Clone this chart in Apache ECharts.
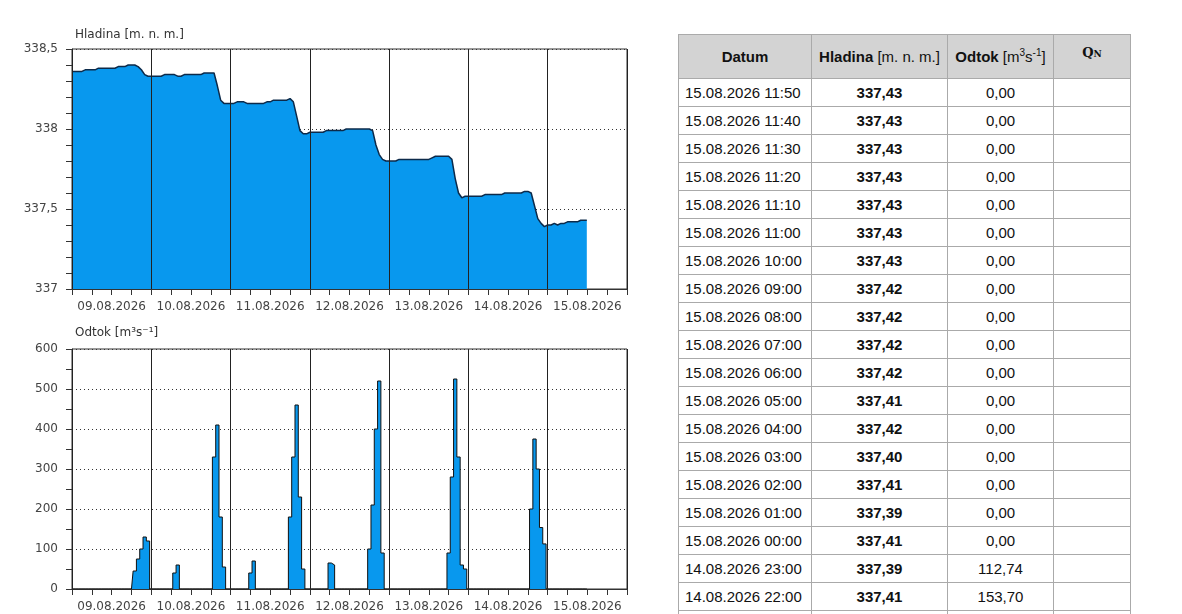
<!DOCTYPE html>
<html>
<head>
<meta charset="utf-8">
<script src="https://cdn.jsdelivr.net/npm/echarts@6/dist/echarts.min.js"></script>
<style>
  html, body { margin: 0; padding: 0; background: #fff; width: 1182px; height: 614px; overflow: hidden; }
  #graf { position: absolute; left: 0; top: 0; width: 660px; height: 614px; }
  #tabulka { position: absolute; left: 678px; top: 34px; border-collapse: collapse; table-layout: fixed;
    font-family: "Liberation Sans", Arial, sans-serif; font-size: 15px; color: #111; }
  #tabulka th, #tabulka td { border: 1px solid #aaa; padding: 0; text-align: center; white-space: nowrap; }
  #tabulka th { background: #d3d3d3; height: 43px; font-weight: normal; line-height: 18px; }
  #tabulka td { height: 27px; }
  #tabulka td.hl { font-weight: bold; }
  #tabulka td.dat { text-align: left; padding-left: 6px; }
  #tabulka sup { font-size: 10px; line-height: 0; }
</style>
</head>
<body>
<div id="graf"></div>
<table id="tabulka">
  <colgroup><col style="width:133px"><col style="width:136px"><col style="width:106px"><col style="width:77px"></colgroup>
  <thead>
    <tr>
      <th><b>Datum</b></th>
      <th><b>Hladina</b> [m. n. m.]</th>
      <th><b>Odtok</b> [m<sup>3</sup>s<sup>-1</sup>]</th>
      <th><b style="font-family:'DejaVu Serif',serif;font-size:13px;position:relative;top:-4px">Q<span style="font-size:9px">N</span></b></th>
    </tr>
  </thead>
  <tbody id="radky"></tbody>
</table>
<script>
// popisky dnů (osa x)
var dny = ["09.08.2026", "10.08.2026", "11.08.2026", "12.08.2026", "13.08.2026", "14.08.2026", "15.08.2026"];

// hladina [m n. m.] - hodinové hodnoty 00:00..23:00
var hladina0908 = [338.36, 338.36, 338.36, 338.36, 338.37, 338.37, 338.37, 338.37, 338.38, 338.38, 338.38, 338.38,
                   338.38, 338.38, 338.39, 338.39, 338.39, 338.40, 338.40, 338.40, 338.39, 338.37, 338.34, 338.33];
var hladina1008 = [338.33, 338.33, 338.33, 338.33, 338.34, 338.34, 338.34, 338.34, 338.33, 338.33, 338.34, 338.34,
                   338.34, 338.34, 338.34, 338.34, 338.35, 338.35, 338.35, 338.35, 338.27, 338.18, 338.16, 338.16];
var hladina1108 = [338.16, 338.16, 338.17, 338.17, 338.17, 338.16, 338.16, 338.16, 338.16, 338.16, 338.16, 338.17,
                   338.17, 338.18, 338.18, 338.18, 338.18, 338.18, 338.19, 338.17, 338.08, 337.99, 337.97, 337.97];
var hladina1208 = [337.98, 337.98, 337.98, 337.98, 337.98, 337.99, 337.99, 337.99, 337.99, 337.99, 337.99, 338.00,
                   338.00, 338.00, 338.00, 338.00, 338.00, 338.00, 338.00, 337.99, 337.90, 337.84, 337.81, 337.80];
var hladina1308 = [337.80, 337.80, 337.80, 337.81, 337.81, 337.81, 337.81, 337.81, 337.81, 337.81, 337.81, 337.81,
                   337.81, 337.82, 337.83, 337.83, 337.83, 337.83, 337.83, 337.81, 337.69, 337.60, 337.57, 337.58];
var hladina1408 = [337.58, 337.58, 337.58, 337.58, 337.58, 337.59, 337.59, 337.59, 337.59, 337.59, 337.59, 337.60,
                   337.60, 337.60, 337.60, 337.60, 337.60, 337.61, 337.61, 337.60, 337.52, 337.44, 337.41, 337.39];
var hladina1508 = [337.40, 337.40, 337.41, 337.40, 337.41, 337.41, 337.42, 337.42, 337.42, 337.42, 337.43, 337.43];

// odtok [m3/s] - hodinové hodnoty 00:00..23:00
var odtok0908 = [0, 0, 0, 0, 0, 0, 0, 0, 0, 0, 0, 0, 0, 0, 0, 0, 0, 0, 0, 45, 75, 100, 130, 120];
var odtok1008 = [0, 0, 0, 0, 0, 0, 0, 40, 60, 0, 0, 0, 0, 0, 0, 0, 0, 0, 0, 330, 410, 180, 55, 0];
var odtok1108 = [0, 0, 0, 0, 0, 0, 40, 70, 0, 0, 0, 0, 0, 0, 0, 0, 0, 0, 180, 330, 460, 230, 50, 0];
var odtok1208 = [0, 0, 0, 0, 0, 0, 65, 60, 0, 0, 0, 0, 0, 0, 0, 0, 0, 0, 100, 210, 400, 520, 90, 0];
var odtok1308 = [0, 0, 0, 0, 0, 0, 0, 0, 0, 0, 0, 0, 0, 0, 0, 0, 0, 0, 90, 280, 525, 330, 60, 50];
var odtok1408 = [0, 0, 0, 0, 0, 0, 0, 0, 0, 0, 0, 0, 0, 0, 0, 0, 0, 0, 0, 200, 375, 300, 153.70, 112.74];
var odtok1508 = [0, 0, 0, 0, 0, 0, 0, 0, 0, 0, 0, 0];

// tabulka posledních měření
var tabDatum = ["15.08.2026 11:50", "15.08.2026 11:40", "15.08.2026 11:30", "15.08.2026 11:20", "15.08.2026 11:10",
                "15.08.2026 11:00", "15.08.2026 10:00", "15.08.2026 09:00", "15.08.2026 08:00", "15.08.2026 07:00",
                "15.08.2026 06:00", "15.08.2026 05:00", "15.08.2026 04:00", "15.08.2026 03:00", "15.08.2026 02:00",
                "15.08.2026 01:00", "15.08.2026 00:00", "14.08.2026 23:00", "14.08.2026 22:00", "14.08.2026 21:00"];
var tabHladina = [337.43, 337.43, 337.43, 337.43, 337.43, 337.43, 337.43, 337.42, 337.42, 337.42,
                  337.42, 337.41, 337.42, 337.40, 337.41, 337.39, 337.41, 337.39, 337.41, 337.44];
var tabOdtok = [0, 0, 0, 0, 0, 0, 0, 0, 0, 0, 0, 0, 0, 0, 0, 0, 0, 112.74, 153.70, 300];

function carka(v, d) { return v.toFixed(d).replace(".", ","); }

// tabulka
var html = "";
for (var i = 0; i < tabDatum.length; i++) {
  html += "<tr><td class='dat'>" + tabDatum[i] + "</td><td class='hl'>" + carka(tabHladina[i], 2) +
          "</td><td>" + carka(tabOdtok[i], 2) + "</td><td></td></tr>";
}
document.getElementById("radky").innerHTML = html;

// data pro graf: x = hodiny od 09.08.2026 00:00
function spoj(dnyPole) {
  var out = [];
  dnyPole.forEach(function (pole, d) {
    pole.forEach(function (v, h) { out.push([d * 24 + h, v]); });
  });
  return out;
}
var dataHladina = spoj([hladina0908, hladina1008, hladina1108, hladina1208, hladina1308, hladina1408, hladina1508]);
var dataOdtok = spoj([odtok0908, odtok1008, odtok1108, odtok1208, odtok1308, odtok1408, odtok1508]);
// poslední měření 15.08. 11:50
dataHladina.push([6 * 24 + 11 + 50 / 60, tabHladina[0]]);
dataOdtok.push([6 * 24 + 11 + 50 / 60, tabOdtok[0]]);

var pismo = "DejaVu Sans";
var barvaOsy = "#333";

function osaX(g) {
  return {
    type: "value", gridIndex: g, min: 0, max: 168, interval: 6,
    axisLine: { show: true, lineStyle: { color: barvaOsy, width: 1 } },
    axisTick: { show: true, inside: false, length: 6, lineStyle: { color: barvaOsy } },
    axisLabel: {
      margin: 12, fontFamily: pismo, fontSize: 12, color: "#444",
      showMinLabel: true, showMaxLabel: true,
      formatter: function (v) { return (v % 24 === 12) ? dny[(v - 12) / 24] : ""; }
    },
    splitLine: { show: false }
  };
}
function osaDny(g) {
  return {
    type: "value", gridIndex: g, min: 0, max: 168, interval: 24, z: 5,
    axisLine: { show: false }, axisTick: { show: false }, axisLabel: { show: false },
    splitLine: { show: true, lineStyle: { color: "#222", width: 1, type: "solid" } }
  };
}
function osaY(g, min, max, krok, deleni) {
  return {
    type: "value", gridIndex: g, min: min, max: max, interval: krok,
    axisLine: { show: true, lineStyle: { color: barvaOsy } },
    axisTick: { show: true, inside: false, length: 6, lineStyle: { color: barvaOsy } },
    minorTick: { show: true, splitNumber: deleni, length: 6, lineStyle: { color: barvaOsy } },
    axisLabel: {
      margin: 14, fontFamily: pismo, fontSize: 12, color: "#444", padding: [0, 0, 4, 0],
      formatter: function (v) { return String(v).replace(".", ","); }
    },
    splitLine: { show: true, lineStyle: { color: "#333", width: 1, type: [1, 3] } }
  };
}

var myChart = echarts.init(document.getElementById("graf"));
var option = {
  animation: false,
  title: [
    { text: "Hladina [m. n. m.]", left: 75, top: 29, padding: 0,
      textStyle: { fontFamily: pismo, fontSize: 12, fontWeight: "normal", color: "#333" } },
    { text: "Odtok [m³s⁻¹]", left: 75, top: 327, padding: 0,
      textStyle: { fontFamily: pismo, fontSize: 12, fontWeight: "normal", color: "#333" } }
  ],
  grid: [
    { left: 72, top: 49, width: 555, height: 240, show: true, borderColor: barvaOsy, borderWidth: 1, backgroundColor: "#fff" },
    { left: 72, top: 349, width: 555, height: 240, show: true, borderColor: barvaOsy, borderWidth: 1, backgroundColor: "#fff" }
  ],
  xAxis: [osaX(0), osaDny(0), osaX(1), osaDny(1)],
  yAxis: [osaY(0, 337, 338.5, 0.5, 5), osaY(1, 0, 600, 100, 2)],
  series: [
    {
      name: "Hladina", type: "line", xAxisIndex: 0, yAxisIndex: 0,
      data: dataHladina, showSymbol: false, smooth: false,
      lineStyle: { color: "#0c2a4a", width: 1.5 },
      areaStyle: { color: "#0898ee", opacity: 1, origin: "start" }
    },
    {
      name: "Odtok", type: "line", xAxisIndex: 2, yAxisIndex: 1,
      data: dataOdtok, showSymbol: false, step: "middle",
      lineStyle: { color: "#111", width: 1 },
      areaStyle: { color: "#0898ee", opacity: 1, origin: "start" }
    }
  ]
};
myChart.setOption(option);
</script>
</body>
</html>
